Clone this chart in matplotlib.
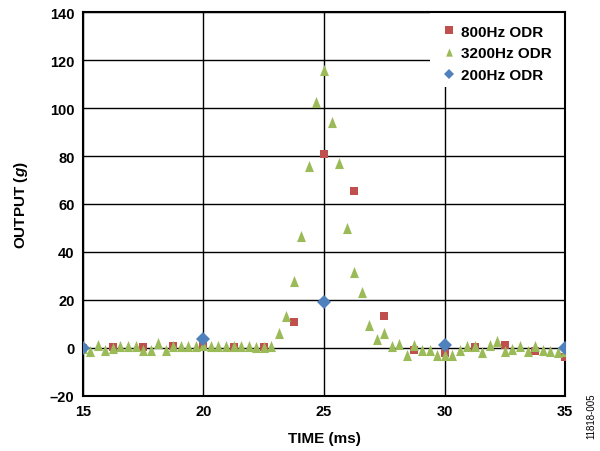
import numpy as np
import matplotlib.pyplot as plt
from matplotlib.lines import Line2D
from matplotlib.patches import Rectangle

plt.rcParams['font.family'] = ['Liberation Sans', 'DejaVu Sans']
plt.rcParams['mathtext.fontset'] = 'custom'
plt.rcParams['mathtext.it'] = 'Liberation Sans:italic:bold'

# Output samples for each data rate, starting at t = 15 ms
t_start = 15.0
odr_hz = [800, 3200, 200]
labels = ['800Hz ODR', '3200Hz ODR', '200Hz ODR']

out_800 = [0, 0.3, 0.3, 0.7, 1.0, 0.3, 0.3, 10.8, 81, 65.5, 13.3,
           -0.7, -2.0, 0.3, 1.4, -1.4, -4.0]

out_3200 = [0, -1.3, 1.0, -0.7, 0.0, 0.7, 0.7, 0.7, -0.7, -0.7,
            2.0, -1.0, 0.7, 0.7, 0.7, 0.7, 1.3, 0.7, 0.7, 0.7,
            0.7, 0.7, 0.7, 0.5, 0.5, 0.8, 6.0, 13.5, 28.0, 46.5,
            76.0, 102.5, 116.0, 94.0, 77.0, 50.0, 31.5, 23.5, 9.5, 3.5,
            6.0, 0.8, 1.5, -2.8, 1.4, -0.7, -0.7, -2.8, -2.8, -2.8,
            -0.7, 0.7, 0.7, -1.8, 1.0, 2.8, -1.1, -0.3, 0.7, -1.1,
            0.7, -0.7, -1.1, -1.8, -1.5]

out_200 = [0, 3.7, 19, 1.1, 0]

series = [out_800, out_3200, out_200]
colors = ['#C0504D', '#9BBB59', '#4F81BD']

# taller-than-wide triangle like the spreadsheet marker
tri = [(-0.8, -1.0), (0.8, -1.0), (0.0, 1.0), (-0.8, -1.0)]
markers = ['s', tri, 'D']
sizes = [6, 8, 7]
leg_sizes = [5.5, 6, 5]

fig = plt.figure(figsize=(6, 4.52), dpi=100)
ax = fig.add_axes([0.138, 0.122, 0.804, 0.849])

for vals, odr, c, m, s, lab in zip(series, odr_hz, colors, markers, sizes, labels):
    t = t_start + np.arange(len(vals)) * 1000.0 / odr
    ax.plot(t, vals, linestyle='none', marker=m, ms=s, color=c,
            markeredgewidth=0, label=lab, zorder=3)

ax.set_xlim(15, 35)
ax.set_ylim(-20, 140)
ax.set_xticks([15, 20, 25, 30, 35])
ax.set_yticks(range(-20, 141, 20))
ax.set_yticklabels(['\u201320' if v < 0 else str(v) for v in range(-20, 141, 20)])
ax.grid(True, color='black', linewidth=1.0)
ax.tick_params(length=0, pad=6, labelsize=10.5)
for lbl in ax.get_xticklabels() + ax.get_yticklabels():
    lbl.set_fontweight('bold')
for sp in ax.spines.values():
    sp.set_linewidth(1.5)

ax.set_xlabel('TIME (ms)', fontsize=11, fontweight='bold', labelpad=9)
ax.set_ylabel(r'OUTPUT ($\mathit{g}$)', fontsize=11, fontweight='bold', labelpad=14)

# white panel behind the legend, above the grid but under the frame
ax.add_patch(Rectangle((0.72, 0.805), 0.28, 0.195, transform=ax.transAxes,
                       facecolor='white', edgecolor='none', zorder=2.2))

handles = [Line2D([], [], linestyle='none', marker=m, ms=s, color=c,
                  markeredgewidth=0) for m, s, c in zip(markers, leg_sizes, colors)]
leg = ax.legend(handles, labels, loc='upper left', bbox_to_anchor=(0.747, 0.967),
                borderaxespad=0, borderpad=0, frameon=False,
                handlelength=0.8, handletextpad=0.4, labelspacing=0.5,
                prop={'weight': 'bold', 'size': 11})
leg.set_zorder(4)

fig.text(0.985, 0.08, '11818-005', rotation=90, fontsize=7,
         ha='center', va='center')

fig.savefig('out.png', dpi=100)
